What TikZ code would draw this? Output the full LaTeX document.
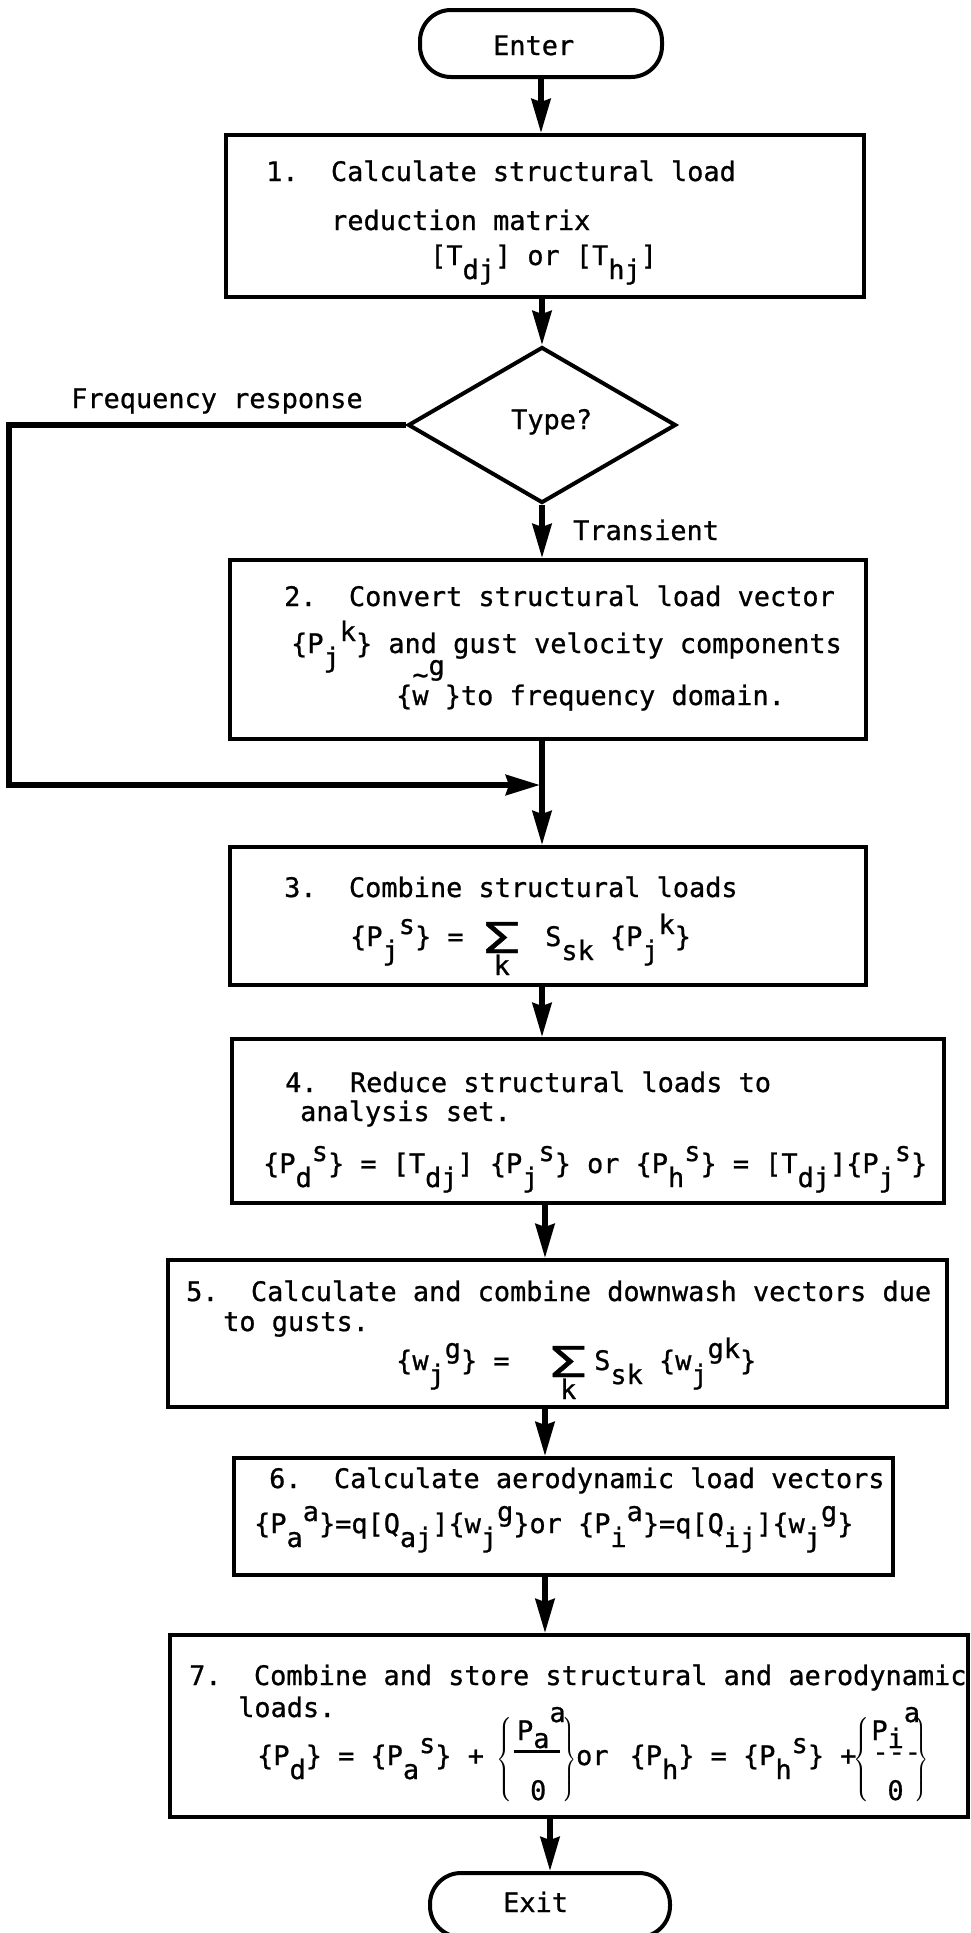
\documentclass[tikz,border=0pt]{standalone}
\usepackage{fontspec}
\usepackage{graphicx}
\setmainfont{DejaVu Sans Mono}[FakeBold=0.8]
\usetikzlibrary{shapes.geometric,arrows.meta}
\frenchspacing
\newcommand\lo[1]{\raisebox{-14pt}{#1}}
\newcommand\hi[1]{\raisebox{12pt}{#1}}
\newcommand\hy{\mbox{-}}
\newcommand\wt{w\llap{\makebox[16.19pt][c]{\raisebox{21pt}{\textasciitilde}}}}
\newcommand\sumk{\makebox[31pt][c]{\raisebox{-7pt}{\resizebox{38pt}{31pt}{Σ}}}\llap{\makebox[31pt][c]{\raisebox{-29pt}{k}}}}
\newcommand\lbrc{\raisebox{-40pt}{\resizebox{18pt}{88pt}{\raisebox{\depth}{\normalsize$\left\{\vrule height 20pt depth 20pt width 0pt\right.$}}}}
\newcommand\rbrc{\raisebox{-40pt}{\resizebox{16pt}{88pt}{\raisebox{\depth}{\normalsize$\left.\vrule height 20pt depth 20pt width 0pt\right\}$}}}}
\newcommand\blockone{\makebox[46pt][l]{\rlap{\hspace{3pt}\raisebox{25pt}{P\raisebox{-8pt}{a}\raisebox{18pt}{a}}}\rlap{\raisebox{12pt}{\rule{46pt}{3pt}}}\rlap{\hspace{16pt}\raisebox{-35pt}{0}}}}
\newcommand\blocktwo{\makebox[41pt][l]{\rlap{\raisebox{25pt}{P\raisebox{-8pt}{i}\raisebox{18pt}{a}}}\rlap{\hspace{1pt}\raisebox{4pt}{\hy\hy\hy}}\rlap{\hspace{16pt}\raisebox{-35pt}{0}}}}
\begin{document}
\begin{tikzpicture}[x=1pt,y=-1pt,
  box/.style={draw,line width=4pt,inner sep=0pt},
  term/.style={draw,line width=4pt,inner sep=0pt,rounded corners=31pt},
  txt/.style={anchor=base west,inner sep=0pt,font=\fontsize{26.9pt}{30pt}\selectfont},
  arr/.style={line width=5.5pt,-{Stealth[length=34pt,width=19pt,inset=3pt]}}]
\useasboundingbox[fill=white] (0,0) rectangle (971,1933);

% terminals
\node[term,minimum width=242pt,minimum height=67pt] (enter) at (541,43.5) {};
\node[term,minimum width=240pt,minimum height=64pt] (exit) at (550,1905) {};
% boxes
\node[box,minimum width=638pt,minimum height=162pt] (b1) at (545,216) {};
\node[draw,diamond,line width=4pt,inner sep=0pt,minimum width=268pt,minimum height=156pt] (dia) at (542,425) {};
\node[box,minimum width=636pt,minimum height=179pt] (b2) at (548,649.5) {};
\node[box,minimum width=636pt,minimum height=138pt] (b3) at (548,916) {};
\node[box,minimum width=712pt,minimum height=164pt] (b4) at (588,1121) {};
\node[box,minimum width=779pt,minimum height=147pt] (b5) at (557.5,1333.5) {};
\node[box,minimum width=659pt,minimum height=117pt] (b6) at (563.5,1516.5) {};
\node[box,minimum width=798pt,minimum height=182pt] (b7) at (569,1726) {};

\coordinate (sp2) at (545,0);
\coordinate (fl) at (9,425);
\coordinate (join) at (540,785);

% connectors
\draw[arr] (enter.south) -- (b1.north -| enter);
\draw[arr] (b1.south -| dia) -- (dia.north);
\draw[arr] (dia.south) -- (b2.north -| dia);
\draw[arr] (b2.south -| dia) -- (b3.north -| dia);
\draw[arr] (b3.south -| dia) -- (b4.north -| dia);
\draw[arr] (b4.south -| sp2) -- (b5.north -| sp2);
\draw[arr] (b5.south -| sp2) -- (b6.north -| sp2);
\draw[arr] (b6.south -| sp2) -- (b7.north -| sp2);
\draw[arr] (b7.south -| exit) -- (exit.north);
\draw[line width=6pt,-{Stealth[length=34pt,width=20pt,inset=3pt]}] (dia.west) -- (fl) |- (join);

% texts
\node[txt] (tenter) at (493,55) {Enter};
\node[txt] (texit) at (503,1912) {Exit};
\node[txt] (tfreq) at (71,408) {Frequency response};
\node[txt] (ttype) at (511,429) {Type?};
\node[txt] (ttrans) at (573,540) {Transient};

\node[txt] (t1a) at (266,181) {1.~~Calculate structural load};
\node[txt] (t1b) at (331,230) {reduction matrix};
\node[txt] (t1c) at (430,265) {[T\lo{dj}] or [T\lo{hj}]};

\node[txt] (t2a) at (284,606) {2.~~Convert structural load vector};
\node[txt] (t2b) at (291,653) {\{P\lo{j}\hi{k}\} and gust velocity components};
\node[txt] (t2c) at (396,705) {\{\wt\raisebox{30pt}{g}\}to frequency domain.};

\node[txt] (t3a) at (284,897) {3.~~Combine structural loads};
\node[txt] (t3b) at (350,946) {\{P\lo{j}\hi{s}\} = \hspace{6.5pt}\sumk\hspace{28pt}S\lo{sk} \{P\lo{j}\hi{k}\}};

\node[txt] (t4a) at (285,1092) {4.~~Reduce structural loads to};
\node[txt] (t4b) at (300,1121) {analysis set.};
\node[txt] (t4c) at (263,1173) {\{P\lo{d}\hi{s}\} = [T\lo{dj}] \{P\lo{j}\hi{s}\} or \{P\lo{h}\hi{s}\} = [T\lo{dj}]\{P\lo{j}\hi{s}\}};

\node[txt] (t5a) at (186,1301) {5.~~Calculate and combine downwash vectors due};
\node[txt] (t5b) at (223,1331) {to gusts.};
\node[txt] (t5c) at (396,1370) {\{w\lo{j}\hi{g}\} = \hspace{27pt}\sumk\hspace{10.5pt}S\lo{sk} \{w\lo{j}\hi{gk}\}};

\node[txt] (t6a) at (269,1488) {6.~~Calculate aerodynamic load vectors};
\node[txt] (t6b) at (254,1533) {\{P\lo{a}\hi{a}\}=q[Q\lo{aj}]\{w\lo{j}\hi{g}\}or \{P\lo{i}\hi{a}\}=q[Q\lo{ij}]\{w\lo{j}\hi{g}\}};

\node[txt] (t7a) at (189,1685) {7.~~Combine and store structural and aerodynamic};
\node[txt] (t7b) at (238,1717) {loads.};
\node[txt] (t7c) at (257,1765) {\{P\lo{d}\} = \{P\lo{a}\hi{s}\} + \hspace{-4pt}\lbrc\blockone\rbrc or \hspace{5pt}\{P\lo{h}\} = \{P\lo{h}\hi{s}\} +\hspace{-3pt}\lbrc\blocktwo\rbrc};
\end{tikzpicture}
\end{document}
